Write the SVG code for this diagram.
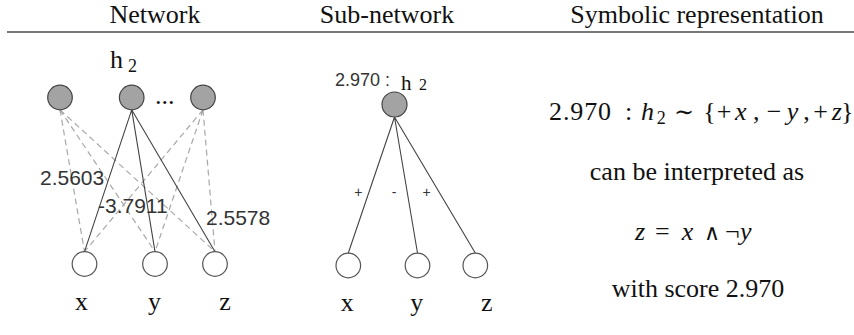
<svg xmlns="http://www.w3.org/2000/svg" width="854" height="335" viewBox="0 0 854 335">
<style>
.serif{font-family:"Liberation Serif","Times New Roman",serif;fill:#111;}
.sans{font-family:"Liberation Sans",Arial,sans-serif;fill:#333;}
.hid{fill:#a3a3a3;stroke:#444;stroke-width:1.2;}
.inp{fill:#fff;stroke:#555;stroke-width:1.2;}
.solid{stroke:#444;stroke-width:1.1;fill:none;}
.dash{stroke:#a8a8a8;stroke-width:1.2;stroke-dasharray:6,4;fill:none;}
.it{font-style:italic;}
.sym{font-family:"DejaVu Serif","Liberation Serif",serif;}
</style>
<rect width="854" height="335" fill="#fff"/>
<g id="header">
<text class="serif" x="155" y="23" font-size="26" text-anchor="middle">Network</text>
<text class="serif" x="387" y="23" font-size="26" text-anchor="middle">Sub-network</text>
<text class="serif" x="697" y="23" font-size="26" text-anchor="middle">Symbolic representation</text>
<line x1="7" y1="32" x2="854" y2="32" stroke="#777" stroke-width="1.8"/>
</g>
<g id="connectors">
<path class="dash" d="M60,109.8L84.5,251.7M60,109.8L155,251.7M60,109.8L215,251.7"/>
<path class="dash" d="M203,109.8L84.5,251.7M203,109.8L155,251.7M203,109.8L215,251.7"/>
<path class="solid" d="M131.7,109.8L84.5,251.7M131.7,109.8L155,251.7M131.7,109.8L215,251.7"/>
<path class="solid" d="M394.5,117L348.3,253M394.5,117L417.5,253M394.5,117L475.3,253"/>
<text class="sans" x="40" y="185" font-size="21">2.5603</text>
<text class="sans" x="98" y="213" font-size="21">-3.7911</text>
<text class="sans" x="206" y="224.5" font-size="21">2.5578</text>
<text class="sans" x="358.3" y="197" font-size="14" text-anchor="middle">+</text>
<text class="sans" x="394" y="197" font-size="14" text-anchor="middle">-</text>
<text class="sans" x="426.7" y="197" font-size="14" text-anchor="middle">+</text>
</g>
<g id="net-h1"><circle class="hid" cx="60" cy="97.5" r="12.3"/></g>
<g id="net-h2"><circle class="hid" cx="131.7" cy="97.5" r="12.3"/>
<text class="serif" x="110" y="68" font-size="26">h</text><text class="serif" x="128" y="71.5" font-size="18">2</text></g>
<g id="net-dots"><text class="serif" x="155" y="104" font-size="26">...</text></g>
<g id="net-h3"><circle class="hid" cx="203" cy="97.5" r="12.3"/></g>
<g id="net-x"><circle class="inp" cx="84.5" cy="264" r="12.3"/><text class="serif" x="81.5" y="310" font-size="26" text-anchor="middle">x</text></g>
<g id="net-y"><circle class="inp" cx="155" cy="264" r="12.3"/><text class="serif" x="154.5" y="310" font-size="26" text-anchor="middle">y</text></g>
<g id="net-z"><circle class="inp" cx="215" cy="264" r="12.3"/><text class="serif" x="225" y="310" font-size="26" text-anchor="middle">z</text></g>
<g id="sub-h2"><circle class="hid" cx="394.5" cy="104.5" r="12.5"/>
<text class="sans" x="335" y="86" font-size="18">2.970 :</text>
<text class="serif" x="401" y="89.5" font-size="21">h</text><text class="serif" x="419" y="90" font-size="16">2</text></g>
<g id="sub-x"><circle class="inp" cx="348.3" cy="265.5" r="12.3"/><text class="serif" x="347.3" y="311" font-size="26" text-anchor="middle">x</text></g>
<g id="sub-y"><circle class="inp" cx="417.5" cy="265.5" r="12.3"/><text class="serif" x="416.7" y="311" font-size="26" text-anchor="middle">y</text></g>
<g id="sub-z"><circle class="inp" cx="475.3" cy="265.5" r="12.3"/><text class="serif" x="486.7" y="311" font-size="26" text-anchor="middle">z</text></g>
<g id="symbolic">
<text class="serif" y="120" font-size="26"><tspan x="549" textLength="62">2.970</tspan><tspan x="625">:</tspan><tspan x="641" class="it">h</tspan><tspan x="656.7" y="124" font-size="18">2</tspan><tspan x="674" y="120" class="sym" font-size="24">∼</tspan><tspan x="703.3">{</tspan><tspan x="716.7">+</tspan><tspan x="735" class="it">x</tspan><tspan x="753">,</tspan><tspan x="766.7">−</tspan><tspan x="786.7" class="it">y</tspan><tspan x="803.3">,</tspan><tspan x="813.3">+</tspan><tspan x="831.7" class="it">z</tspan><tspan x="841">}</tspan></text>
<text class="serif" x="697" y="180" font-size="26" text-anchor="middle">can be interpreted as</text>
<text class="serif" y="240" font-size="26"><tspan x="635" class="it">z</tspan><tspan x="655">=</tspan><tspan x="681.7" class="it">x</tspan><tspan x="704" class="sym" font-size="22">∧</tspan><tspan x="725">¬</tspan><tspan x="740" class="it">y</tspan></text>
<text class="serif" x="698" y="297" font-size="26" text-anchor="middle">with score 2.970</text>
</g>
</svg>
